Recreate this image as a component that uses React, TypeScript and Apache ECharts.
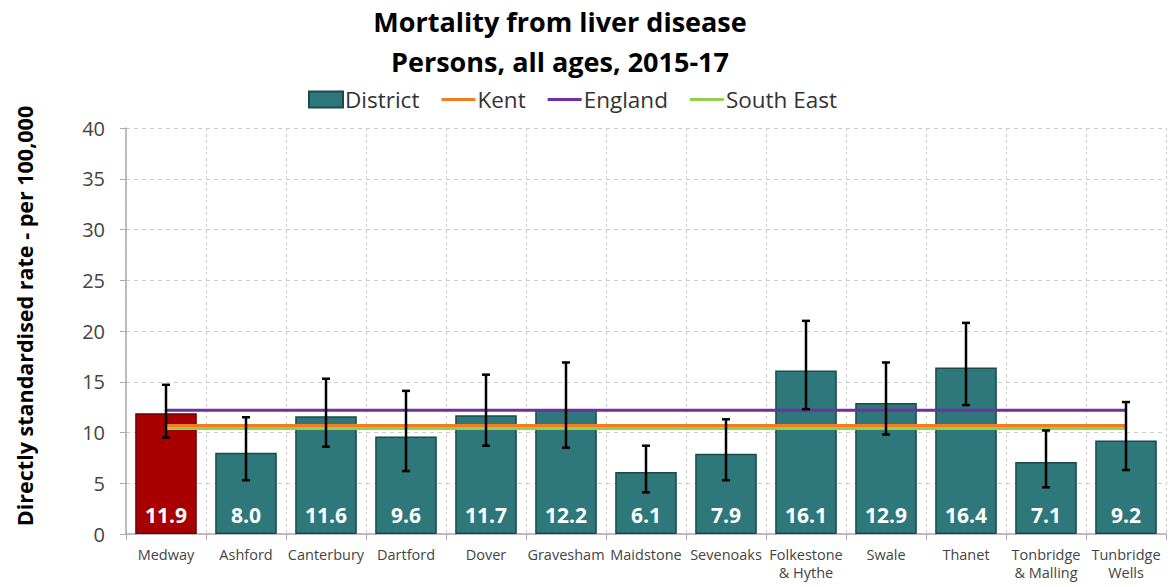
import React, { useEffect, useRef } from "react";
import * as echarts from "echarts";

const categories = ["Medway", "Ashford", "Canterbury", "Dartford", "Dover", "Gravesham", "Maidstone", "Sevenoaks", "Folkestone\n& Hythe", "Swale", "Thanet", "Tonbridge\n& Malling", "Tunbridge\nWells"];
const values = [11.9, 8.0, 11.6, 9.6, 11.7, 12.2, 6.1, 7.9, 16.1, 12.9, 16.4, 7.1, 9.2];
const lowerCI = [9.5, 5.3, 8.6, 6.2, 8.7, 8.5, 4.1, 5.3, 12.3, 9.8, 12.7, 4.6, 6.3];
const upperCI = [14.7, 11.5, 15.3, 14.1, 15.7, 16.9, 8.7, 11.3, 21.0, 16.9, 20.8, 10.2, 13.0];
const kentValue = 10.7;
const englandValue = 12.2;
const southEastValue = 10.4;
const yTicks = [0, 5, 10, 15, 20, 25, 30, 35, 40];
const yAxisTitle = "Directly standardised rate - per 100,000";

export default function App() {
  const ref = useRef<HTMLDivElement>(null);
  useEffect(() => {
    if (!ref.current) return;
    const chart = echarts.init(ref.current, null, { renderer: "svg" });
    const font = "'Open Sans', sans-serif";
    const lineIcon = "path://M0,0H34V3H0Z";
    chart.setOption({
      animation: false,
      textStyle: { fontFamily: font },
      title: {
        text: "Mortality from liver disease\nPersons, all ages, 2015-17",
        left: 560,
        textAlign: "center",
        top: 1,
        padding: 0,
        textStyle: { fontSize: 27, fontWeight: "bold", color: "#000", lineHeight: 40, fontFamily: font },
      },
      legend: {
        top: 88,
        left: 308,
        padding: 0,
        itemGap: 22,
        itemWidth: 34,
        itemHeight: 16,
        textStyle: { fontSize: 22.5, color: "#333", fontFamily: font, padding: [0, 0, 0, -3] },
        data: [
          { name: "District", icon: "rect" },
          { name: "Kent", icon: lineIcon },
          { name: "England", icon: lineIcon },
          { name: "South East", icon: lineIcon },
        ],
      },
      graphic: [
        {
          type: "text",
          x: 24,
          y: 316,
          rotation: Math.PI / 2,
          style: {
            text: yAxisTitle,
            fill: "#000",
            font: `bold 21.5px ${font}`,
            align: "center",
            verticalAlign: "middle",
          },
        },
      ],
      grid: { left: 126, right: 8, top: 128, bottom: 53 },
      xAxis: {
        type: "category",
        data: categories,
        axisLine: { lineStyle: { color: "#aaa", width: 1.5 } },
        axisTick: { show: true, length: 6, lineStyle: { color: "#aaa" } },
        axisLabel: { fontSize: 14.5, color: "#444", interval: 0, margin: 11, lineHeight: 18 },
        splitLine: { show: true, lineStyle: { color: "#ccc", type: [3, 3] } },
      },
      yAxis: {
        type: "value",
        min: 0,
        max: 40,
        interval: 5,
        axisLine: { show: true, lineStyle: { color: "#aaa", width: 1.5 } },
        axisTick: { show: true, length: 6, lineStyle: { color: "#aaa" } },
        axisLabel: { fontSize: 20, color: "#444", margin: 21, formatter: (v: number) => (yTicks.includes(v) ? String(v) : "") },
        splitLine: { show: true, lineStyle: { color: "#ccc", type: [4, 4] } },
      },
      series: [
        {
          name: "District",
          type: "bar",
          barWidth: "77%",
          itemStyle: { color: "#2E787B", borderColor: "#1B4A4C", borderWidth: 1.5 },
          data: values.map((v, i) =>
            i === 0 ? { value: v, itemStyle: { color: "#A80000", borderColor: "#6E0000" } } : v
          ),
          label: {
            show: true,
            position: "insideBottom",
            distance: 9,
            formatter: (p: any) => p.value.toFixed(1),
            color: "#fff",
            fontSize: 21,
            fontWeight: "bold",
          },
          z: 2,
        },
        {
          name: "Kent",
          type: "line",
          symbol: "none",
          data: categories.map(() => kentValue),
          lineStyle: { color: "#F47B20", width: 3 },
          itemStyle: { color: "#F47B20" },
          z: 3,
        },
        {
          name: "England",
          type: "line",
          symbol: "none",
          data: categories.map(() => englandValue),
          lineStyle: { color: "#7030A0", width: 3 },
          itemStyle: { color: "#7030A0" },
          z: 3,
        },
        {
          name: "South East",
          type: "line",
          symbol: "none",
          data: categories.map(() => southEastValue),
          lineStyle: { color: "#92D050", width: 3 },
          itemStyle: { color: "#92D050" },
          z: 3,
        },
        {
          name: "CI",
          type: "custom",
          data: categories.map((_, i) => [i, lowerCI[i], upperCI[i]]),
          renderItem: (params: any, api: any) => {
            const x = api.value(0);
            const lo = api.coord([x, api.value(1)]);
            const hi = api.coord([x, api.value(2)]);
            const hw = 4;
            const style = { stroke: "#000", lineWidth: 2.5 };
            return {
              type: "group",
              children: [
                { type: "line", shape: { x1: lo[0], y1: lo[1], x2: hi[0], y2: hi[1] }, style },
                { type: "line", shape: { x1: hi[0] - hw, y1: hi[1], x2: hi[0] + hw, y2: hi[1] }, style },
                { type: "line", shape: { x1: lo[0] - hw, y1: lo[1], x2: lo[0] + hw, y2: lo[1] }, style },
              ],
            };
          },
          z: 4,
        },
      ],
    });
    return () => chart.dispose();
  }, []);
  return <div ref={ref} style={{ width: 1174, height: 587, position: "absolute", left: 0, top: 0 }} />;
}
